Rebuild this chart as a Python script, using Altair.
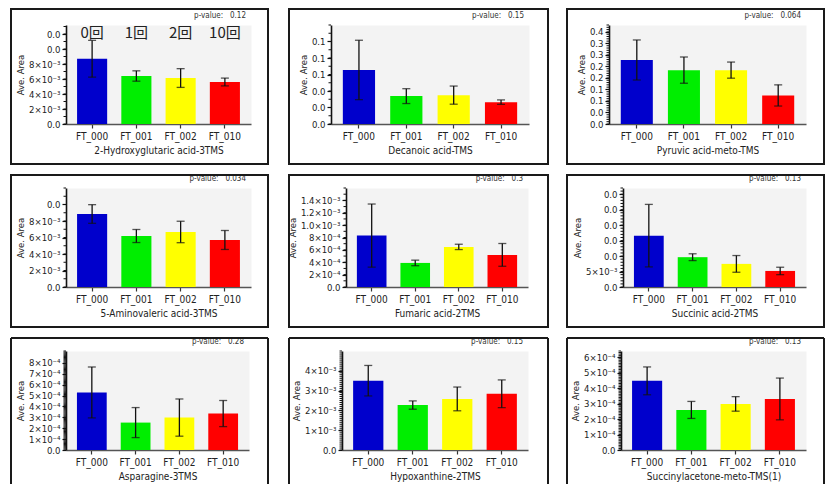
import json
import pandas as pd
import altair as alt

# Sample groups and their bar colours
groups = ["FT_000", "FT_001", "FT_002", "FT_010"]
bar_colors = ["#0000cc", "#00ee00", "#ffff00", "#ff0000"]
repeat_labels = ["0回", "1回", "2回", "10回"]

# Compound names (one panel each, row by row)
compounds = [
    "2-Hydroxyglutaric acid-3TMS", "Decanoic acid-TMS", "Pyruvic acid-meto-TMS",
    "5-Aminovaleric acid-3TMS", "Fumaric acid-2TMS", "Succinic acid-2TMS",
    "Asparagine-3TMS", "Hypoxanthine-2TMS", "Succinylacetone-meto-TMS(1)",
]
p_values = ["0.12", "0.15", "0.064", "0.034", "0.3", "0.13", "0.28", "0.15", "0.13"]

# Mean peak area per group
mean_hydroxyglutaric = [8.7e-3, 6.4e-3, 6.13e-3, 5.6e-3]
mean_decanoic = [0.0655, 0.0338, 0.035, 0.0265]
mean_pyruvic = [0.278, 0.234, 0.234, 0.124]
mean_aminovaleric = [8.85e-3, 6.18e-3, 6.67e-3, 5.7e-3]
mean_fumaric = [8.31e-4, 3.89e-4, 6.48e-4, 5.19e-4]
mean_succinic = [16.6e-3, 9.64e-3, 7.47e-3, 5.19e-3]
mean_asparagine = [5.29e-4, 2.52e-4, 2.98e-4, 3.35e-4]
mean_hypoxanthine = [3.5e-3, 2.27e-3, 2.58e-3, 2.84e-3]
mean_succinylacetone = [4.47e-4, 2.59e-4, 2.98e-4, 3.3e-4]

# Standard deviation per group
sd_hydroxyglutaric = [2.45e-3, 0.69e-3, 1.25e-3, 0.52e-3]
sd_decanoic = [0.036, 0.009, 0.011, 0.0027]
sd_pyruvic = [0.087, 0.057, 0.035, 0.046]
sd_aminovaleric = [1.13e-3, 0.79e-3, 1.3e-3, 1.15e-3]
sd_fumaric = [5.1e-4, 0.45e-4, 0.43e-4, 1.84e-4]
sd_succinic = [10.1e-3, 1.1e-3, 2.7e-3, 1.2e-3]
sd_asparagine = [2.34e-4, 1.38e-4, 1.71e-4, 1.2e-4]
sd_hypoxanthine = [0.77e-3, 0.21e-3, 0.6e-3, 0.7e-3]
sd_succinylacetone = [0.9e-4, 0.55e-4, 0.47e-4, 1.35e-4]

means = [mean_hydroxyglutaric, mean_decanoic, mean_pyruvic, mean_aminovaleric,
         mean_fumaric, mean_succinic, mean_asparagine, mean_hypoxanthine,
         mean_succinylacetone]
sds = [sd_hydroxyglutaric, sd_decanoic, sd_pyruvic, sd_aminovaleric,
       sd_fumaric, sd_succinic, sd_asparagine, sd_hypoxanthine,
       sd_succinylacetone]

# Y axis upper limits
y_max = [0.0132, 0.12, 0.43, 0.012, 0.0016, 0.032, 9.1e-4, 0.005, 6.4e-4]

# Major tick values and their printed labels
tick_values = [
    [0, 0.002, 0.004, 0.006, 0.008, 0.010, 0.012],
    [0, 0.02, 0.04, 0.06, 0.08, 0.10],
    [0, 0.05, 0.1, 0.15, 0.2, 0.25, 0.3, 0.35, 0.4],
    [0, 0.002, 0.004, 0.006, 0.008, 0.010],
    [0, 2e-4, 4e-4, 6e-4, 8e-4, 1.0e-3, 1.2e-3, 1.4e-3],
    [0, 0.005, 0.01, 0.015, 0.02, 0.025, 0.03],
    [0, 1e-4, 2e-4, 3e-4, 4e-4, 5e-4, 6e-4, 7e-4, 8e-4],
    [0, 1e-3, 2e-3, 3e-3, 4e-3],
    [0, 1e-4, 2e-4, 3e-4, 4e-4, 5e-4, 6e-4],
]
tick_labels = [
    ["0.0", "2×10⁻³", "4×10⁻³", "6×10⁻³", "8×10⁻³", "0.0", "0.0"],
    ["0.0", "0.0", "0.0", "0.1", "0.1", "0.1"],
    ["0.0", "0.0", "0.1", "0.1", "0.2", "0.2", "0.3", "0.3", "0.4"],
    ["0.0", "2×10⁻³", "4×10⁻³", "6×10⁻³", "8×10⁻³", "0.0"],
    ["0.0", "2×10⁻⁴", "4×10⁻⁴", "6×10⁻⁴", "8×10⁻⁴", "1.0×10⁻³", "1.2×10⁻³", "1.4×10⁻³"],
    ["0.0", "5×10⁻³", "0.0", "0.0", "0.0", "0.0", "0.0"],
    ["0.0", "1×10⁻⁴", "2×10⁻⁴", "3×10⁻⁴", "4×10⁻⁴", "5×10⁻⁴", "6×10⁻⁴", "7×10⁻⁴", "8×10⁻⁴"],
    ["0.0", "1×10⁻³", "2×10⁻³", "3×10⁻³", "4×10⁻³"],
    ["0.0", "1×10⁻⁴", "2×10⁻⁴", "3×10⁻⁴", "4×10⁻⁴", "5×10⁻⁴", "6×10⁻⁴"],
]
minor_step = [1e-3, 0.01, 0.01, 1e-3, 1e-4, 1e-3, 1e-5, 1e-4, 1e-5]

# Layout (pixels)
plot_widths = [[185, 198, 197], [185, 182, 183], [183, 186, 185]]
col_spacing = [80, 95, 93]
plot_height = 99
plot_left0 = 65
plot_tops = [24, 185, 346]
frame_x = [(10, 267), (288, 547), (566, 823)]
frame_y = [(8, 163), (172, 324), (333, 483)]
frame_gap = 7  # space between the stroked frames of consecutive rows

FONT = "DejaVu Sans Condensed, DejaVu Sans"
FRAME = "#1a1a1a"
INK = "#111111"
NBSP = "\u00a0"


def panel(i, row, col, left_abs):
    w = plot_widths[row][col]
    df = pd.DataFrame({
        "group": groups,
        "mean": means[i],
        "lo": [m - s for m, s in zip(means[i], sds[i])],
        "hi": [m + s for m, s in zip(means[i], sds[i])],
        "rep": repeat_labels,
    })
    info = pd.DataFrame({"p": ["p-value:" + NBSP * 3 + p_values[i]]})
    n_minor = int(round(y_max[i] / minor_step[i]))
    minor_df = pd.DataFrame(
        {"v": [round(k * minor_step[i], 12) for k in range(n_minor + 1)]})

    vals = tick_values[i]
    label_expr = "{}[indexof({}, datum.value)]".format(
        json.dumps(tick_labels[i], ensure_ascii=False), json.dumps(vals))

    y_axis = alt.Axis(
        orient="left", values=vals, labelExpr=label_expr, grid=False,
        tickSize=4, tickWidth=1.2, tickColor=INK, domainColor=INK,
        domainWidth=1.6, labelFont=FONT, labelFontSize=9.5, labelColor="#222",
        labelPadding=2, title="Ave. Area", titleFont=FONT, titleFontSize=9.5,
        titleFontWeight="normal", titleColor="#222", titlePadding=3,
    )
    x_axis = alt.Axis(
        orient="bottom", labelAngle=0, tickSize=4, tickWidth=1.2,
        tickColor="#333", domainColor="#555", domainWidth=1.6,
        labelFont=FONT, labelFontSize=10, labelColor="#222", labelPadding=3,
        title=compounds[i], titleFont=FONT, titleFontSize=10,
        titleFontWeight="normal", titleColor="#222", titlePadding=4,
    )
    yscale = alt.Scale(domain=[0, y_max[i]], nice=False, zero=True)
    xscale = alt.Scale(domain=groups, paddingInner=0.32, paddingOuter=0.25)

    def xe():
        return alt.X("group:N", scale=xscale, axis=x_axis, sort=groups)

    def ye(field):
        return alt.Y(field, scale=yscale, axis=y_axis)

    bars = alt.Chart(df).mark_bar().encode(
        x=xe(), y=ye("mean:Q"),
        color=alt.Color("group:N", scale=alt.Scale(domain=groups, range=bar_colors),
                        legend=None),
    )
    # minor ticks on the value axis
    minor = alt.Chart(minor_df).mark_rule(color=INK, strokeWidth=1).encode(
        x=alt.value(-2.5), x2=alt.value(0), y=ye("v:Q"))
    # error bars: stem plus caps
    stem = alt.Chart(df).mark_rule(color=INK, strokeWidth=1.3).encode(
        x=xe(), y=ye("lo:Q"), y2="hi:Q")
    cap_lo = alt.Chart(df).mark_tick(
        color=INK, orient="horizontal", size=8, thickness=1.3).encode(
        x=xe(), y=ye("lo:Q"))
    cap_hi = alt.Chart(df).mark_tick(
        color=INK, orient="horizontal", size=8, thickness=1.3).encode(
        x=xe(), y=ye("hi:Q"))

    ptext = alt.Chart(info).mark_text(
        align="right", baseline="middle", font=FONT, fontSize=8, color="#333"
    ).encode(x=alt.value(w - 5), y=alt.value(-9), text="p:N")

    top = plot_tops[row]
    fx0, fx1 = frame_x[col]
    fy0, fy1 = frame_y[row]
    l, r = fx0 - left_abs, fx1 - left_abs
    t, b = fy0 - top, fy1 - top
    frame_df = pd.DataFrame({"k": [0]})
    if row < 2:
        frame = [alt.Chart(frame_df).mark_rect(
            fillOpacity=0, stroke=FRAME, strokeWidth=2).encode(
            x=alt.value(l), x2=alt.value(r), y=alt.value(t), y2=alt.value(b))]
    else:
        rule = alt.Chart(frame_df).mark_rule(color=FRAME, strokeWidth=2)
        frame = [
            rule.encode(x=alt.value(l), x2=alt.value(r), y=alt.value(t)),
            rule.encode(x=alt.value(l), y=alt.value(t), y2=alt.value(b)),
            rule.encode(x=alt.value(r), y=alt.value(t), y2=alt.value(b)),
        ]

    layers = [bars, minor, stem, cap_lo, cap_hi, ptext] + frame
    if i == 0:
        layers.append(alt.Chart(df).mark_text(
            font="Noto Sans CJK JP", fontSize=15, color="#222", baseline="middle"
        ).encode(x=xe(), y=alt.value(8), text="rep:N"))

    return alt.layer(*layers).properties(width=w, height=plot_height)


rows = []
for row in range(3):
    charts = []
    left = plot_left0
    for col in range(3):
        i = row * 3 + col
        charts.append(panel(i, row, col, left))
        left += plot_widths[row][col] + col_spacing[row]
    rows.append(alt.hconcat(*charts, spacing=col_spacing[row], bounds="flush"))

chart = alt.vconcat(*rows, spacing=frame_gap).properties(
    padding={"left": 9, "top": 7, "right": 0, "bottom": 0},
    background="white",
).configure_view(fill="#f3f3f3", stroke="transparent")

chart.save("out.html", embed_options={"renderer": "svg", "actions": False})
